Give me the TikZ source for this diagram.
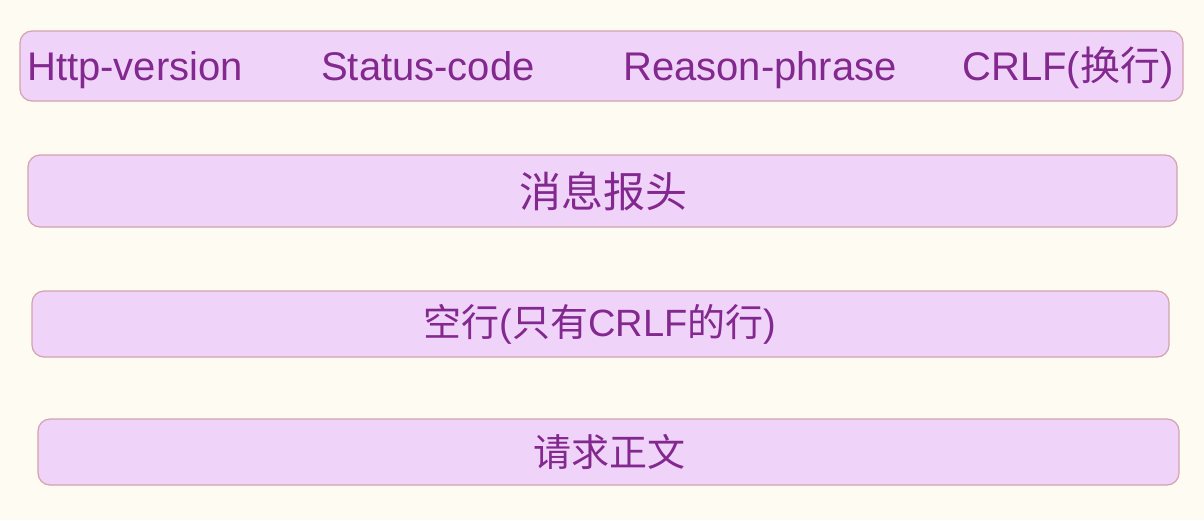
\documentclass[tikz,border=0pt]{standalone}
\usepackage{fontspec}
\setmainfont{Liberation Sans}
\newfontfamily\cjk{Noto Sans CJK SC}
\definecolor{bg}{HTML}{FEFBF3}
\definecolor{boxfill}{HTML}{F0D3F8}
\definecolor{boxline}{HTML}{D2A2AE}
\definecolor{txt}{HTML}{82288E}
\begin{document}
\begin{tikzpicture}[x=1pt,y=-1pt,
  bar/.style={draw=boxline,fill=boxfill,rounded corners=12pt,line width=1.2pt},
  lbl/.style={text=txt,font=\fontsize{40}{42}\selectfont,inner sep=0pt}]
\fill[bg] (0,0) rectangle (1204,520);
\useasboundingbox (0,0) rectangle (1204,520);
\draw[bar] (20,31) rectangle (1183,101);
\draw[bar] (28,155) rectangle (1177,227);
\draw[bar] (32,291) rectangle (1169,357);
\draw[bar] (38,419) rectangle (1179,485);
\node[lbl,anchor=base] (hv) at (135,80) {Http-version};
\node[lbl,anchor=base] (sc) at (428,80) {Status-code};
\node[lbl,anchor=base] (rp) at (760,80) {Reason-phrase};
\node[lbl,anchor=base] (cr) at (1068,80) {CRLF({\cjk 换行})};
\node[lbl,font=\fontsize{42}{44}\selectfont\cjk] (hd) at (603,191) {消息报头};
\node[lbl,font=\fontsize{38}{40}\selectfont,anchor=base] (bl) at (600,336) {{\cjk 空行}({\cjk 只有}CRLF{\cjk 的行})};
\node[lbl,font=\fontsize{38}{40}\selectfont\cjk] (bd) at (609,452) {请求正文};
\end{tikzpicture}
\end{document}
